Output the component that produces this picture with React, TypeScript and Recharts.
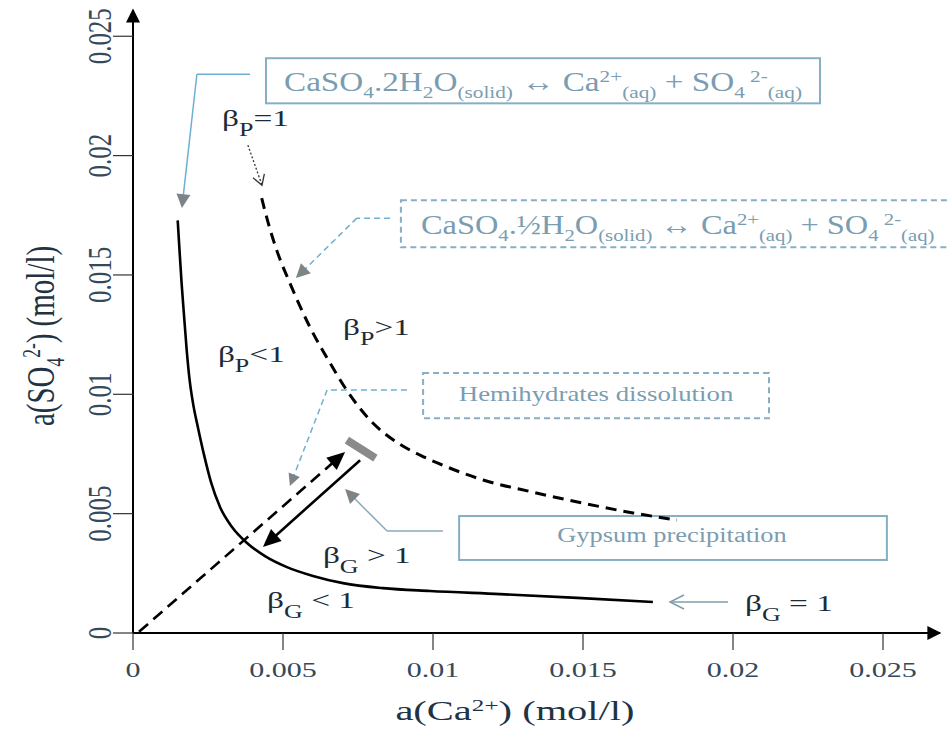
import React from "react"
import { LineChart, Line, XAxis, YAxis, ReferenceLine, ReferenceArea, ReferenceDot } from "recharts"

const caTicks = [0, 0.005, 0.01, 0.015, 0.02, 0.025]
const so4Ticks = [0, 0.005, 0.01, 0.015, 0.02, 0.025]

// beta G = 1 (gypsum)
const gypsumCa = [0.00149, 0.00155, 0.00162, 0.0017, 0.00179, 0.00188, 0.002, 0.00217, 0.00237, 0.0026, 0.0029, 0.0033, 0.0038, 0.0044, 0.00513, 0.006, 0.007, 0.00833, 0.0099, 0.01223, 0.0148, 0.01733]
const gypsumSO4 = [0.01729, 0.01604, 0.01466, 0.01332, 0.01185, 0.01068, 0.00963, 0.00858, 0.00745, 0.00632, 0.00528, 0.00444, 0.00377, 0.00322, 0.00276, 0.00239, 0.00209, 0.00188, 0.00176, 0.00163, 0.00147, 0.0013]

// beta P = 1 (hemihydrate)
const hemiCa = [0.00429, 0.0045, 0.00479, 0.00523, 0.0059, 0.00657, 0.00712, 0.0079, 0.00883, 0.00957, 0.01023, 0.01167, 0.01333, 0.015, 0.01667, 0.01813]
const hemiSO4 = [0.01822, 0.01721, 0.01604, 0.01466, 0.01281, 0.01131, 0.01018, 0.00892, 0.00796, 0.00745, 0.00708, 0.00641, 0.0059, 0.00544, 0.00503, 0.00473]

// reaction path: dissolution from origin, precipitation back towards the curve
const dissolutionCa = [0.0002, 0.00707]
const dissolutionSO4 = [0.00005, 0.00758]
const precipCa = [0.00757, 0.00433]
const precipSO4 = [0.00724, 0.0036]
const stopCa = [0.00713, 0.00808]
const stopSO4 = [0.00808, 0.00733]

// callout leader lines (data units)
const leaderGypsumCa = [0.0039, 0.00213, 0.00163]
const leaderGypsumSO4 = [0.02341, 0.02341, 0.0178]
const leaderHemiCa = [0.00857, 0.00746, 0.00543]
const leaderHemiSO4 = [0.01738, 0.01738, 0.01487]
const leaderDissCa = [0.00913, 0.00647, 0.00523]
const leaderDissSO4 = [0.01018, 0.01018, 0.00616]
const leaderPrecCa = [0.01033, 0.00847, 0.00707]
const leaderPrecSO4 = [0.00427, 0.00427, 0.00603]
const leaderBgCa = [0.01983, 0.0179]
const leaderBgSO4 = [0.0013, 0.0013]
const leaderBpCa = [0.00383, 0.0043]
const leaderBpSO4 = [0.02044, 0.01876]

// callout boxes: [ca1, ca2, so4 low, so4 high]
const boxGypsumEq = [0.004433, 0.0229, 0.02219, 0.02408]
const boxHemiEq = [0.00893, 0.02757, 0.01616, 0.01813]
const boxDiss = [0.00967, 0.0212, 0.009, 0.01089]
const boxPrec = [0.01087, 0.02513, 0.00306, 0.0049]

const betaLabels = [
  { ca: 0.00297, so4: 0.02125, sub: "P", rest: "=1" },
  { ca: 0.007, so4: 0.01248, sub: "P", rest: ">1" },
  { ca: 0.00283, so4: 0.01135, sub: "P", rest: "<1" },
  { ca: 0.00633, so4: 0.00293, sub: "G", rest: " > 1" },
  { ca: 0.00447, so4: 0.00105, sub: "G", rest: " < 1" },
  { ca: 0.0204, so4: 0.00092, sub: "G", rest: " = 1" },
]

const pairs = (xs: number[], ys: number[]) => xs.map((x, i) => ({ x, y: ys[i] }))

const gypsum = pairs(gypsumCa, gypsumSO4)
const hemi = pairs(hemiCa, hemiSO4)
const stopMark = pairs(stopCa, stopSO4)

const SERIF = "'Liberation Serif', 'DejaVu Serif', serif"
const BOXBLUE = "#86afc4"
const BOXTEXT = "#7a9db1"
const LEADBLUE = "#6eb0d2"

type Part = [string, "n" | "sub" | "sup"]

function Rich({ parts, size, subScale = 0.68, subDrop = 0.3, supRise = 0.4 }: { parts: Part[]; size: number; subScale?: number; subDrop?: number; supRise?: number }) {
  let cur = 0
  return (
    <>
      {parts.map(([t, k], i) => {
        const target = k === "sub" ? size * subDrop : k === "sup" ? -size * supRise : 0
        const dy = target - cur
        cur = target
        return (
          <tspan key={i} dy={dy} fontSize={k === "n" ? size : size * subScale}>
            {t}
          </tspan>
        )
      })}
    </>
  )
}

function arrowSeg(o: { stroke: string; width: number; dash?: string; head?: "fill" | "open"; headColor?: string; len?: number; half?: number }) {
  return (p: any) => {
    const { x1, y1, x2, y2 } = p
    const dx = x2 - x1
    const dy = y2 - y1
    const l = Math.hypot(dx, dy) || 1
    const ux = dx / l
    const uy = dy / l
    const L = o.len ?? 14
    const W = o.half ?? 6
    const bx = x2 - ux * L
    const by = y2 - uy * L
    const nx = -uy
    const ny = ux
    const ex = o.head === "fill" ? bx + ux * 2 : x2
    const ey = o.head === "fill" ? by + uy * 2 : y2
    return (
      <g>
        <line x1={x1} y1={y1} x2={ex} y2={ey} stroke={o.stroke} strokeWidth={o.width} strokeDasharray={o.dash} />
        {o.head === "fill" && (
          <polygon points={`${x2},${y2} ${bx + nx * W},${by + ny * W} ${bx - nx * W},${by - ny * W}`} fill={o.headColor ?? o.stroke} />
        )}
        {o.head === "open" && (
          <polyline
            points={`${bx + nx * W},${by + ny * W} ${x2},${y2} ${bx - nx * W},${by - ny * W}`}
            fill="none"
            stroke={o.headColor ?? o.stroke}
            strokeWidth={o.width}
          />
        )}
      </g>
    )
  }
}

function leader(xs: number[], ys: number[], o: Parameters<typeof arrowSeg>[0], key: string) {
  const out = []
  for (let i = 0; i < xs.length - 1; i++) {
    const last = i === xs.length - 2
    out.push(
      <ReferenceLine
        key={`${key}-${i}`}
        segment={[{ x: xs[i], y: ys[i] }, { x: xs[i + 1], y: ys[i + 1] }]}
        ifOverflow="visible"
        shape={arrowSeg(last ? o : { ...o, head: undefined })}
      />
    )
  }
  return out
}

function box(b: number[], key: string, dashed: boolean, label: (r: { x: number; y: number; width: number; height: number }) => React.ReactNode) {
  return (
    <ReferenceArea
      key={key}
      x1={b[0]}
      x2={b[1]}
      y1={b[2]}
      y2={b[3]}
      ifOverflow="visible"
      shape={(p: any) => (
        <g>
          <rect x={p.x} y={p.y} width={p.width} height={p.height} fill="#fff" stroke={BOXBLUE} strokeWidth={2} strokeDasharray={dashed ? "6 4" : undefined} />
          {label(p)}
        </g>
      )}
    />
  )
}

const eqGypsum: Part[] = [
  ["CaSO", "n"], ["4", "sub"], [".2H", "n"], ["2", "sub"], ["O", "n"], ["(solid)", "sub"], [" \u2194 Ca", "n"], ["2+", "sup"], ["(aq)", "sub"], [" + SO", "n"], ["4", "sub"], [" 2-", "sup"], ["(aq)", "sub"],
]
const eqHemi: Part[] = [
  ["CaSO", "n"], ["4", "sub"], [".\u00bdH", "n"], ["2", "sub"], ["O", "n"], ["(solid)", "sub"], [" \u2194 Ca", "n"], ["2+", "sup"], ["(aq)", "sub"], [" + SO", "n"], ["4", "sub"], [" 2-", "sup"], ["(aq)", "sub"],
]

function XTick(p: any) {
  return (
    <text transform={`translate(${p.x},${p.y + 25}) scale(1.5,1)`} textAnchor="middle" fontFamily={SERIF} fontSize={20} fill="#34495a">
      {p.payload.value}
    </text>
  )
}

function YTick(p: any) {
  return (
    <text transform={`translate(${p.x},${p.y}) scale(1.35,1) rotate(-90)`} textAnchor="middle" fontFamily={SERIF} fontSize={25} fill="#34495a">
      {p.payload.value}
    </text>
  )
}

const xTitle = () => (
  <text transform="translate(515,720) scale(1.5,1)" textAnchor="middle" fontFamily={SERIF} fontSize={27} fill="#1f3344" style={{ whiteSpace: "pre" }}>
    <Rich parts={[["a(Ca", "n"], ["2+", "sup"], [") (mol/l)", "n"]]} size={27} subScale={0.62} supRise={0.33} />
  </text>
)

const yTitle = () => (
  <text transform="translate(54,336) scale(1.4,1) rotate(-90)" textAnchor="middle" fontFamily={SERIF} fontSize={29} fill="#1f3344" style={{ whiteSpace: "pre" }}>
    <Rich parts={[["a(SO", "n"], ["4", "sub"], ["2-", "sup"], [") (mol/l)", "n"]]} size={29} subScale={0.6} subDrop={0.25} supRise={0.35} />
  </text>
)

export default function App() {
  return (
    <div style={{ position: "absolute", left: 0, top: 0, width: 947, height: 729, background: "#fff", overflow: "hidden" }}>
      <svg width={0} height={0} style={{ position: "absolute" }}>
        <defs>
          <marker id="axisArrow" viewBox="0 0 10 10" refX="9" refY="5" markerUnits="userSpaceOnUse" markerWidth="16" markerHeight="14" orient="auto-start-reverse">
            <path d="M0,0 L10,5 L0,10 z" fill="#000" />
          </marker>
        </defs>
      </svg>
      <LineChart width={947} height={729} margin={{ top: 10, right: 7, bottom: 0, left: 0 }}>
        <XAxis
          type="number"
          dataKey="x"
          domain={[0, 0.0269]}
          allowDataOverflow
          ticks={caTicks}
          height={96}
          tickSize={17}
          tickLine={{ stroke: "#333", strokeWidth: 1.2 }}
          axisLine={{ stroke: "#000", strokeWidth: 2, markerEnd: "url(#axisArrow)" }}
          tick={<XTick />}
          label={xTitle}
        />
        <YAxis
          type="number"
          dataKey="y"
          domain={[0, 0.0261]}
          allowDataOverflow
          ticks={so4Ticks}
          width={133}
          tickSize={20}
          tickLine={{ stroke: "#333", strokeWidth: 1.2 }}
          axisLine={{ stroke: "#000", strokeWidth: 2, markerStart: "url(#axisArrow)" }}
          tick={<YTick />}
          label={yTitle}
        />

        {box(boxGypsumEq, "b1", false, (r) => (
          <text transform={`translate(${r.x + 18},${r.y + 33}) scale(1.23,1)`} fontFamily={SERIF} fill={BOXTEXT} style={{ whiteSpace: "pre" }}>
            <Rich parts={eqGypsum} size={27} subScale={0.64} subDrop={0.25} supRise={0.35} />
          </text>
        ))}
        {box(boxHemiEq, "b2", true, (r) => (
          <text transform={`translate(${r.x + 20},${r.y + 34}) scale(1.2,1)`} fontFamily={SERIF} fill={BOXTEXT} style={{ whiteSpace: "pre" }}>
            <Rich parts={eqHemi} size={27} subScale={0.64} subDrop={0.25} supRise={0.35} />
          </text>
        ))}
        {box(boxDiss, "b3", true, (r) => (
          <text transform={`translate(${r.x + r.width / 2},${r.y + 28}) scale(1.34,1)`} textAnchor="middle" fontFamily={SERIF} fontSize={20} fill={BOXTEXT}>
            Hemihydrates dissolution
          </text>
        ))}
        {box(boxPrec, "b4", false, (r) => (
          <text transform={`translate(${r.x + r.width / 2 - 1},${r.y + 26}) scale(1.32,1)`} textAnchor="middle" fontFamily={SERIF} fontSize={20} fill={BOXTEXT}>
            Gypsum precipitation
          </text>
        ))}

        {leader(leaderGypsumCa, leaderGypsumSO4, { stroke: LEADBLUE, width: 1.5, head: "fill", headColor: "#7d8488", len: 14, half: 7 }, "l1")}
        {leader(leaderHemiCa, leaderHemiSO4, { stroke: LEADBLUE, width: 1.5, dash: "6 4", head: "fill", headColor: "#7d8488", len: 14, half: 7 }, "l2")}
        {leader(leaderDissCa, leaderDissSO4, { stroke: LEADBLUE, width: 1.5, dash: "6 4", head: "fill", headColor: "#7d8488", len: 12, half: 6 }, "l3")}
        {leader(leaderPrecCa, leaderPrecSO4, { stroke: "#8aa9ba", width: 1.5, head: "fill", headColor: "#7d8488", len: 14, half: 7 }, "l4")}
        {leader(leaderBgCa, leaderBgSO4, { stroke: "#7f9cab", width: 1.5, head: "open", len: 14, half: 7 }, "l5")}
        {leader(leaderBpCa, leaderBpSO4, { stroke: "#333", width: 1.3, dash: "2 2", head: "open", len: 10, half: 6 }, "l6")}

        <Line data={gypsum} dataKey="y" type="monotone" stroke="#000" strokeWidth={2.6} dot={false} isAnimationActive={false} />
        <Line data={hemi} dataKey="y" type="monotone" stroke="#000" strokeWidth={3} strokeDasharray="11 7" dot={false} isAnimationActive={false} />
        <Line data={stopMark} dataKey="y" type="linear" stroke="#8a8a8a" strokeWidth={8} dot={false} isAnimationActive={false} />

        <ReferenceLine
          segment={[{ x: dissolutionCa[0], y: dissolutionSO4[0] }, { x: dissolutionCa[1], y: dissolutionSO4[1] }]}
          ifOverflow="visible"
          shape={arrowSeg({ stroke: "#000", width: 2.6, dash: "12 7", head: "fill", len: 18, half: 8 })}
        />
        <ReferenceLine
          segment={[{ x: precipCa[0], y: precipSO4[0] }, { x: precipCa[1], y: precipSO4[1] }]}
          ifOverflow="visible"
          shape={arrowSeg({ stroke: "#000", width: 2.6, head: "fill", len: 18, half: 8 })}
        />

        {betaLabels.map((b, i) => (
          <ReferenceDot
            key={`beta-${i}`}
            x={b.ca}
            y={b.so4}
            r={0}
            ifOverflow="visible"
            shape={(p: any) => (
              <text transform={`translate(${p.cx},${p.cy}) scale(1.45,1)`} fontFamily={SERIF} fill="#1d2b38" style={{ whiteSpace: "pre" }}>
                <Rich parts={[["\u03b2", "n"], [b.sub, "sub"], [b.rest, "n"]]} size={23} subScale={0.78} subDrop={0.45} />
              </text>
            )}
          />
        ))}
      </LineChart>
    </div>
  )
}
